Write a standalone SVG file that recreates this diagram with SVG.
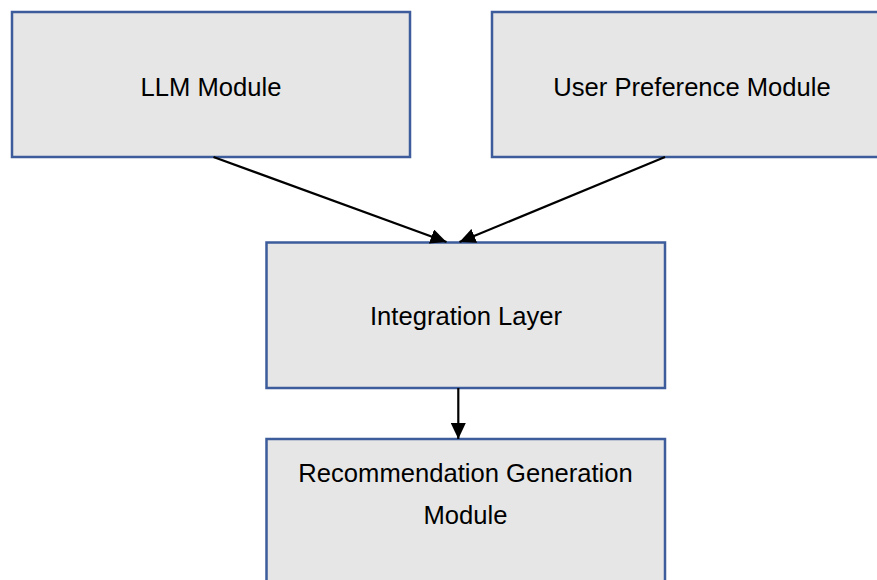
<svg xmlns="http://www.w3.org/2000/svg" width="877" height="580" viewBox="0 0 877 580">
<defs>
<style>
.box{fill:#e6e6e6;stroke:#3c5c9c;stroke-width:2.5}
.lbl{font-family:"Liberation Sans",Arial,sans-serif;font-size:25.6px;fill:#000;text-anchor:middle}
.conn{stroke:#000;stroke-width:2.2;fill:none}
</style>
<marker id="arr" markerUnits="userSpaceOnUse" markerWidth="17" markerHeight="15" refX="16" refY="7.5" orient="auto" viewBox="0 0 17 15">
<path d="M0,0 L16,7.5 L0,15 Z" fill="#000"/>
</marker>
</defs>
<rect width="877" height="580" fill="#fff"/>
<g id="llm">
<rect class="box" x="12" y="12" width="398" height="145"/>
<text class="lbl" x="211" y="95.5">LLM Module</text>
</g>
<g id="user-pref">
<rect class="box" x="492" y="12" width="400" height="145"/>
<text class="lbl" x="692" y="95.5">User Preference Module</text>
</g>
<g id="integration">
<rect class="box" x="266.5" y="242.5" width="398.5" height="145.5"/>
<text class="lbl" x="466" y="325">Integration Layer</text>
</g>
<g id="recommendation">
<rect class="box" x="266.5" y="439" width="398.5" height="160"/>
<text class="lbl" x="465.5" y="481.5">Recommendation Generation</text>
<text class="lbl" x="465.5" y="523.5">Module</text>
</g>
<g id="connectors">
<line class="conn" x1="213.5" y1="157" x2="446.5" y2="242" marker-end="url(#arr)"/>
<line class="conn" x1="665" y1="157" x2="459.5" y2="242" marker-end="url(#arr)"/>
<line class="conn" x1="458.3" y1="388" x2="458.3" y2="439" marker-end="url(#arr)"/>
</g>
</svg>
